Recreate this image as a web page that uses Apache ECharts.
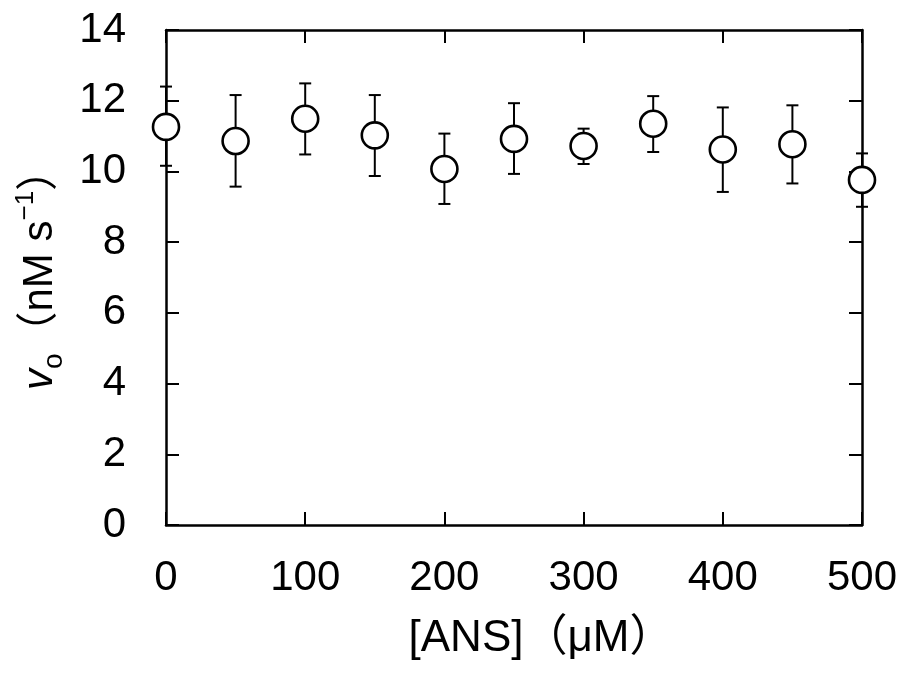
<!DOCTYPE html>
<html>
<head>
<meta charset="utf-8">
<script src="https://cdn.jsdelivr.net/npm/echarts@6/dist/echarts.min.js"></script>
<style>
html,body{margin:0;padding:0;background:#fff;}
#chart{width:904px;height:682px;}
</style>
</head>
<body>
<div id="chart"></div>
<script>
// ANS concentration (µM)
const ansConc = [0, 50, 100, 150, 200, 250, 300, 350, 400, 450, 500];
// initial velocity v0 (nM s^-1)
const v0 = [11.26, 10.86, 11.49, 11.02, 10.07, 10.92, 10.72, 11.35, 10.62, 10.77, 9.76];
// error bar upper / lower ends
const v0Upper = [12.40, 12.16, 12.49, 12.16, 11.07, 11.93, 11.21, 12.13, 11.81, 11.87, 10.51];
const v0Lower = [10.16, 9.57, 10.48, 9.87, 9.08, 9.93, 10.21, 10.55, 9.42, 9.66, 9.00];
// tick labels
const xTicks = [0, 100, 200, 300, 400, 500];
const yTicks = [0, 2, 4, 6, 8, 10, 12, 14];

const FONT = "'Liberation Sans', Arial, 'Noto Sans CJK JP', sans-serif";

const points = ansConc.map((x, i) => [x, v0[i]]);
const bars = ansConc.map((x, i) => [x, v0Lower[i], v0Upper[i]]);

const chart = echarts.init(document.getElementById('chart'));

function axisLine() { return {show: true, onZero: false, lineStyle: {color: '#000', width: 2.5}}; }
function tickIn() { return {show: true, inside: true, length: 13, lineStyle: {color: '#000', width: 2}}; }

chart.setOption({
  animation: false,
  backgroundColor: '#fff',
  grid: {left: 166, right: 42, top: 30, bottom: 157, containLabel: false},
  xAxis: [{
    type: 'value', min: xTicks[0], max: xTicks[xTicks.length - 1], interval: 100,
    position: 'bottom',
    axisLine: axisLine(), axisTick: tickIn(), splitLine: {show: false},
    axisLabel: {color: '#000', fontSize: 42, fontFamily: FONT, margin: 32},
    name: '[ANS]（μM）', nameLocation: 'middle', nameGap: 92,
    nameTextStyle: {color: '#000', fontSize: 44, fontFamily: FONT, padding: [0, 0, 0, 54]}
  }, {
    type: 'value', min: xTicks[0], max: xTicks[xTicks.length - 1], interval: 100,
    position: 'top',
    axisLine: axisLine(), axisTick: tickIn(), splitLine: {show: false},
    axisLabel: {show: false}
  }],
  yAxis: [{
    type: 'value', min: yTicks[0], max: yTicks[yTicks.length - 1], interval: 2,
    position: 'left',
    axisLine: axisLine(), axisTick: tickIn(), splitLine: {show: false},
    axisLabel: {color: '#000', fontSize: 42, fontFamily: FONT, margin: 40},
    name: '{v|v}{sub|o}{t|（nM s}{sup|−1}{t|）}',
    nameLocation: 'middle', nameGap: 92,
    nameTextStyle: {
      color: '#000', fontFamily: FONT, padding: [0, 0, 0, 16],
      rich: {
        v: {fontSize: 42, fontStyle: 'italic', fontFamily: FONT, lineHeight: 56, color: '#000'},
        t: {fontSize: 42, fontFamily: FONT, lineHeight: 56, color: '#000'},
        sub: {fontSize: 28, fontFamily: FONT, lineHeight: 28, verticalAlign: 'bottom', color: '#000'},
        sup: {fontSize: 26, fontFamily: FONT, lineHeight: 26, verticalAlign: 'top', color: '#000'}
      }
    }
  }, {
    type: 'value', min: yTicks[0], max: yTicks[yTicks.length - 1], interval: 2,
    position: 'right',
    axisLine: axisLine(), axisTick: tickIn(), splitLine: {show: false},
    axisLabel: {show: false}
  }],
  series: [{
    type: 'custom',
    xAxisIndex: 0, yAxisIndex: 0,
    z: 3,
    clip: false,
    data: bars,
    renderItem: function (params, api) {
      const x = api.value(0);
      const lo = api.coord([x, api.value(1)]);
      const hi = api.coord([x, api.value(2)]);
      const hw = 6;
      const st = {stroke: '#000', lineWidth: 2};
      return {
        type: 'group',
        children: [
          {type: 'line', shape: {x1: lo[0], y1: lo[1], x2: hi[0], y2: hi[1]}, style: st},
          {type: 'line', shape: {x1: lo[0] - hw, y1: lo[1], x2: lo[0] + hw, y2: lo[1]}, style: st},
          {type: 'line', shape: {x1: hi[0] - hw, y1: hi[1], x2: hi[0] + hw, y2: hi[1]}, style: st}
        ]
      };
    }
  }, {
    type: 'scatter',
    xAxisIndex: 0, yAxisIndex: 0,
    z: 4,
    clip: false,
    data: points,
    symbol: 'circle',
    symbolSize: 26,
    itemStyle: {color: '#fff', borderColor: '#000', borderWidth: 2.6, opacity: 1}
  }, {
    // empty series so the mirrored top/right axes are drawn
    type: 'line', xAxisIndex: 1, yAxisIndex: 1, data: [], silent: true
  }]
});
</script>
</body>
</html>
